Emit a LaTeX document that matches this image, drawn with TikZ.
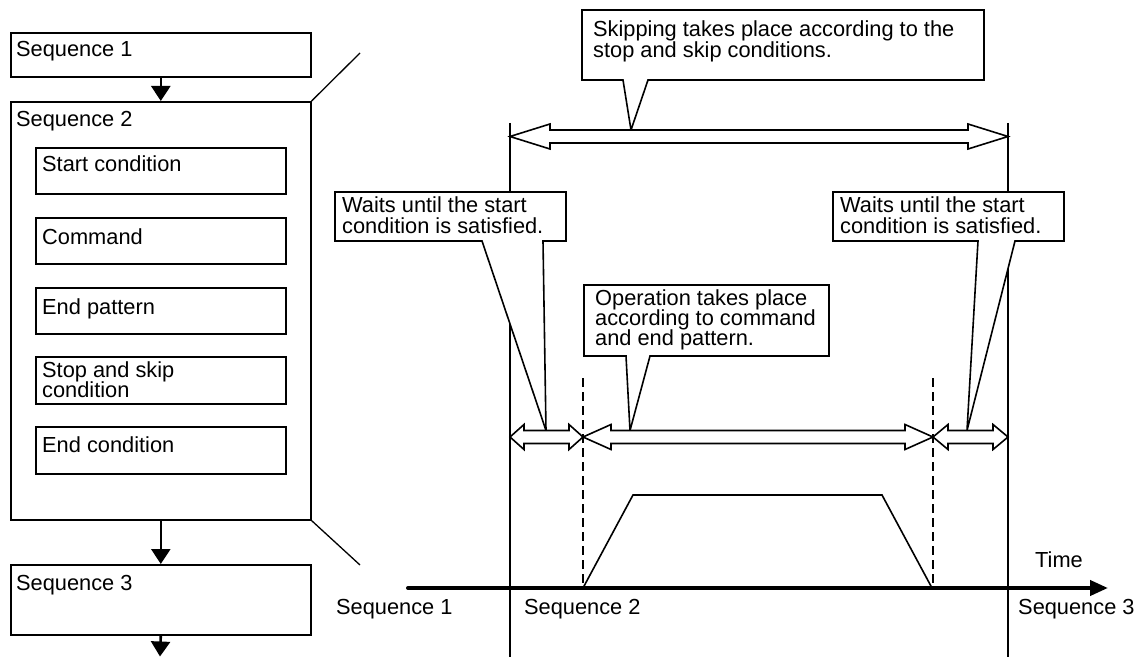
\documentclass[tikz,border=0pt]{standalone}
\usepackage{fontspec}
\setmainfont{Liberation Sans}
\usetikzlibrary{arrows.meta}
\lineskiplimit=-30pt
\newcommand\hdarrow[4]{%
  \draw[hollow] (#1,#3) -- ({#1+#4},{#3-12.5}) -- ({#1+#4},{#3-6.5}) -- ({#2-#4},{#3-6.5})
    -- ({#2-#4},{#3-12.5}) -- (#2,#3) -- ({#2-#4},{#3+12.5}) -- ({#2-#4},{#3+6.5})
    -- ({#1+#4},{#3+6.5}) -- ({#1+#4},{#3+12.5}) -- cycle;}
\begin{document}
\begin{tikzpicture}[x=1bp,y=-1bp,
  every node/.style={inner sep=0pt, font=\fontsize{21.8bp}{20.3bp}\selectfont},
  box/.style={draw, line width=1.6bp, fill=white, anchor=north west},
  lbl/.style={anchor=base west},
  flow/.style={line width=2.6bp, -{Triangle[length=15bp,width=19bp]}},
  thinline/.style={line width=1.6bp},
  zoomline/.style={line width=1.3bp},
  co/.style={draw, line width=1.6bp, fill=white, line join=miter},
  hollow/.style={draw, line width=1.6bp, fill=white, line join=miter},
  guide/.style={line width=2.4bp, dash pattern=on 9bp off 5bp},
]
\useasboundingbox (0,0) rectangle (1146,657);

% ---------- left flow ----------
\node[box, minimum width=300bp, minimum height=44bp] (s1) at (10,32) {};
\node[lbl] (s1t) at (16,57) {Sequence 1};
\node[box, minimum width=300bp, minimum height=418bp] (s2) at (10,101) {};
\node[lbl] (s2t) at (16,127) {Sequence 2};
\node[box, minimum width=250bp, minimum height=46bp] (b1) at (35,147) {};
\node[lbl] (b1t) at (42,172) {Start condition};
\node[box, minimum width=250bp, minimum height=46bp] (b2) at (35,217) {};
\node[lbl] (b2t) at (42,244) {Command};
\node[box, minimum width=250bp, minimum height=46bp] (b3) at (35,287) {};
\node[lbl] (b3t) at (42,314) {End pattern};
\node[box, minimum width=250bp, minimum height=47bp] (b4) at (35,356) {};
\node[lbl] (b4t) at (42,377) {\vtop{\hbox{Stop and skip}\hbox{condition}}};
\node[box, minimum width=250bp, minimum height=47bp] (b5) at (35,426) {};
\node[lbl] (b5t) at (42,452) {End condition};
\node[box, minimum width=300bp, minimum height=70bp] (s3) at (10,564) {};
\node[lbl] (s3t) at (16,590) {Sequence 3};
\coordinate (s3out) at (160,656.5);

\draw[flow] (s1.south) -- (s2.north);
\draw[flow] (s2.south) -- (s3.north);
\draw[flow] (s3.south) -- (s3out);

% zoom lines
\coordinate (zt) at (360,53);
\coordinate (zb) at (360,565);
\draw[zoomline] (s2.north east) -- (zt);
\draw[zoomline] (s2.south east) -- (zb);

% ---------- timing chart ----------
\coordinate (vl0) at (510,123);
\coordinate (vl1) at (510,657);
\coordinate (vr0) at (1008,123);
\coordinate (vr1) at (1008,657);
\draw[thinline] (vl0) -- (vl1);
\draw[thinline] (vr0) -- (vr1);

\coordinate (d10) at (583,378);
\coordinate (d11) at (583,588);
\coordinate (d20) at (933,378);
\coordinate (d21) at (933,588);
\draw[guide] (d10) -- (d11);
\draw[guide] (d20) -- (d21);

% trapezoid
\coordinate (p1) at (583,588);
\coordinate (p2) at (633,495);
\coordinate (p3) at (882,495);
\coordinate (p4) at (932,588);
\draw[thinline, line join=miter] (p1) -- (p2) -- (p3) -- (p4);

% time axis
\coordinate (ax0) at (408,588);
\coordinate (ax1) at (1108,588);
\draw[line width=4bp, line cap=round, -{Triangle[length=18bp,width=15bp]}] (ax0) -- (ax1);
\node[lbl] (time) at (1035,567) {Time};
\node[lbl] (q1) at (336,614) {Sequence 1};
\node[lbl] (q2) at (524,614) {Sequence 2};
\node[lbl] (q3) at (1018,614) {Sequence 3};

% callouts
\draw[co] (582,10) -- (984,10) -- (984,80) -- (648,80) -- (631,130) -- (623,80) -- (582,80) -- cycle;
\node[lbl] (c1) at (593,37) {\vtop{\hbox{Skipping takes place according to the}\hbox{stop and skip conditions.}}};

\draw[co] (335,192) -- (566,192) -- (566,241) -- (543,241) -- (546,430.5) -- (482,241) -- (335,241) -- cycle;
\node[lbl] (c2) at (342,213) {\vtop{\hbox{Waits until the start}\hbox{condition is satisfied.}}};

\draw[co] (833,192) -- (1064,192) -- (1064,241) -- (1015,241) -- (967,430.5) -- (978,241) -- (833,241) -- cycle;
\node[lbl] (c3) at (840,213) {\vtop{\hbox{Waits until the start}\hbox{condition is satisfied.}}};

\draw[co] (584,285) -- (829,285) -- (829,356) -- (650,356) -- (630,430.5) -- (626,356) -- (584,356) -- cycle;
\node[lbl] (c4) at (595,305) {\vtop{\hbox{Operation takes place}\hbox{according to command}\hbox{and end pattern.}}};

% hollow double arrows
\hdarrow{510}{1008}{136.5}{40}
\hdarrow{510}{583}{437}{14}
\hdarrow{583}{933}{437}{28}
\hdarrow{933}{1008}{437}{15}
\end{tikzpicture}
\end{document}
